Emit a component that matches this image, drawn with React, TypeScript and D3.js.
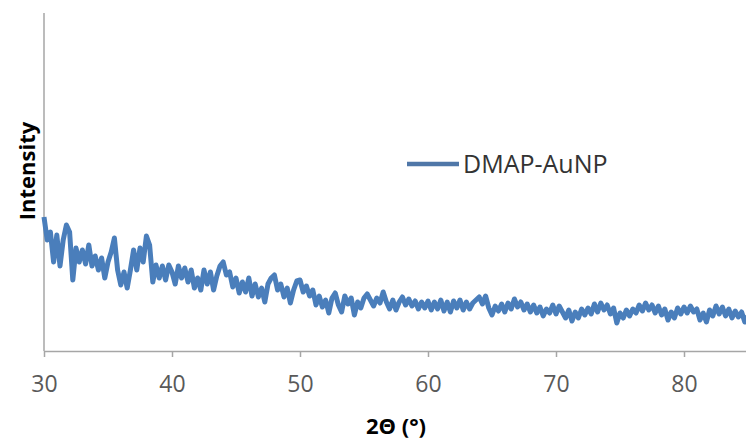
import React, { useEffect, useRef } from "react";
import * as d3 from "d3";

// XRD scan, sampled every 0.25 deg from 30 to 85 (intensity in arbitrary units)
const scanStart = 30;
const scanEnd = 85;
const scanStep = 0.25;

const intensity30 = [
  134, 111, 119, 89, 116, 85, 111, 126, 119, 71,
  103, 89, 101, 87, 106, 85, 95, 81, 93, 73,
  89, 99, 113, 81, 66, 79, 63, 81, 101, 81,
  103, 89, 115, 106, 69, 86, 73, 85, 71, 86,
];
const intensity40 = [
  79, 67, 85, 73, 83, 69, 81, 63, 73, 61,
  81, 67, 79, 61, 75, 85, 89, 76, 79, 64,
  73, 58, 69, 59, 73, 55, 67, 54, 63, 49,
  67, 73, 76, 61, 67, 54, 63, 48, 61, 70,
];
const intensity50 = [
  71, 59, 65, 55, 61, 46, 55, 44, 51, 38,
  53, 58, 46, 39, 55, 47, 53, 36, 49, 43,
  53, 57, 51, 45, 53, 48, 59, 49, 42, 51,
  41, 49, 54, 46, 52, 45, 50, 42, 49, 43,
];
const intensity60 = [
  50, 41, 49, 42, 51, 40, 49, 39, 50, 43,
  51, 41, 49, 42, 48, 51, 54, 47, 55, 43,
  36, 45, 40, 47, 39, 48, 42, 52, 44, 49,
  41, 47, 39, 46, 38, 44, 35, 42, 38, 46,
];
const intensity70 = [
  37, 45, 39, 33, 41, 30, 39, 33, 42, 36,
  43, 37, 47, 39, 48, 41, 46, 37, 43, 28,
  38, 33, 41, 35, 42, 38, 46, 40, 48, 41,
  46, 38, 45, 36, 42, 31, 39, 33, 43, 37,
];
const intensity80 = [
  44, 38, 45, 39, 42, 31, 38, 29, 41, 35,
  45, 37, 44, 35, 42, 33, 40, 34, 39, 29,
  35,
];

const xTicks = [30, 40, 50, 60, 70, 80];
const seriesName = "DMAP-AuNP";

const W = 746;
const H = 442;
const FONT = "'Open Sans', 'Liberation Sans', sans-serif";

export default function App() {
  const svgRef = useRef<SVGSVGElement | null>(null);

  useEffect(() => {
    const svg = d3.select(svgRef.current);
    svg.selectAll("*").remove();

    const values = [
      ...intensity30,
      ...intensity40,
      ...intensity50,
      ...intensity60,
      ...intensity70,
      ...intensity80,
    ];
    const angles = d3.range(scanStart, scanEnd + scanStep / 2, scanStep);
    const data = angles.map((a, i) => ({ a, v: values[i] }));

    const x = d3.scaleLinear().domain([30, 85]).range([44, 748]);
    const y = d3.scaleLinear().domain([0, 338]).range([351, 13]);

    // y axis line (no ticks)
    svg
      .append("line")
      .attr("x1", x(30))
      .attr("x2", x(30))
      .attr("y1", y(338))
      .attr("y2", y(0))
      .attr("stroke", "#a6a6a6")
      .attr("stroke-width", 1.5);

    // x axis
    const xAxis = svg
      .append("g")
      .attr("transform", `translate(0,${y(0)})`)
      .call(
        d3
          .axisBottom(x)
          .tickValues(xTicks)
          .tickSize(6)
          .tickSizeOuter(0)
          .tickPadding(19)
      );
    xAxis.select(".domain").attr("stroke", "#a6a6a6").attr("stroke-width", 1.5);
    xAxis.selectAll(".tick line").attr("stroke", "#a6a6a6").attr("stroke-width", 1.5);
    xAxis
      .selectAll(".tick text")
      .attr("fill", "#595959")
      .attr("font-family", FONT)
      .attr("font-size", 23);

    // data line
    const line = d3
      .line<{ a: number; v: number }>()
      .x((d) => x(d.a))
      .y((d) => y(d.v));
    svg
      .append("path")
      .datum(data)
      .attr("fill", "none")
      .attr("stroke", "#4a7ebb")
      .attr("stroke-width", 5)
      .attr("stroke-linejoin", "round")
      .attr("d", line);

    // legend
    svg
      .append("line")
      .attr("x1", 407)
      .attr("x2", 459)
      .attr("y1", 164)
      .attr("y2", 164)
      .attr("stroke", "#4f77a8")
      .attr("stroke-width", 4.5);
    svg
      .append("text")
      .attr("x", 463)
      .attr("y", 173)
      .attr("font-family", FONT)
      .attr("font-size", 25)
      .attr("fill", "#333")
      .text(seriesName);

    // axis titles
    svg
      .append("text")
      .attr("transform", `translate(35,171) rotate(-90)`)
      .attr("text-anchor", "middle")
      .attr("font-family", FONT)
      .attr("font-weight", "bold")
      .attr("font-size", 22)
      .attr("fill", "#000")
      .text("Intensity");
    svg
      .append("text")
      .attr("x", 396)
      .attr("y", 434)
      .attr("text-anchor", "middle")
      .attr("font-family", FONT)
      .attr("font-weight", "bold")
      .attr("font-size", 22)
      .attr("fill", "#000")
      .text("2Θ (°)");
  }, []);

  return (
    <svg
      ref={svgRef}
      width={W}
      height={H}
      style={{ position: "absolute", left: 0, top: 0, background: "#fff" }}
    />
  );
}
